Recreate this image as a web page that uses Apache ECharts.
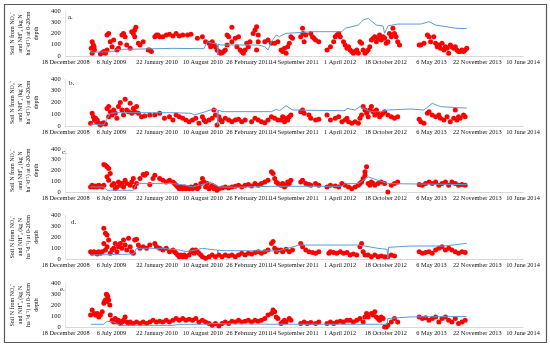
<!DOCTYPE html>
<html><head><meta charset="utf-8">
<script src="https://cdn.jsdelivr.net/npm/echarts@6/dist/echarts.min.js"></script>
<style>html,body{margin:0;padding:0;background:#fff}#c{width:550px;height:346px}</style>
</head><body><div id="c"></div><script>
// x values are day serial numbers (Excel date system); ticks every 200 days
const tickLabels = ['18 December 2008','6 July 2009','22 January 2010','10 August 2010','26 February 2011','14 September 2011','1 April 2012','18 October 2012','6 May 2013','22 November 2013','10 June 2014'];
const xMin = 39800, xMax = 41800, xStep = 200;
const panelLabels = ['a.','b.','c.','d.','e.'];
const yAxisTitle = 'Soil N from NO\u2083\u207B\nand NH\u207A\u2084 (kg N\nha\u207B\u00B9d\u207B\u00B9) at 0-20cm\ndepth';

const scatterA = [[39912,68],[39916,127],[39921,98],[39924,83],[39926,53],[39916,24],[39952,18],[39960,30],[39967,39],[39974,24],[39981,53],[39981,187],[39988,201],[39995,127],[40003,83],[40010,142],[40024,53],[40031,68],[40039,113],[40046,187],[40053,201],[40060,172],[40067,98],[40082,68],[40089,216],[40096,201],[40102,231],[40107,255],[40102,172],[40118,113],[40125,98],[40139,127],[40161,53],[40168,53],[40175,39],[40190,172],[40197,187],[40204,187],[40211,172],[40225,172],[40240,187],[40254,193],[40269,178],[40283,201],[40297,178],[40312,187],[40333,187],[40348,193],[40376,157],[40398,172],[40412,127],[40427,113],[40434,83],[40441,127],[40448,98],[40455,83],[40462,53],[40470,39],[40477,24],[40484,30],[40491,39],[40498,53],[40506,187],[40513,172],[40506,98],[40527,127],[40527,255],[40542,157],[40549,83],[40556,172],[40563,53],[40570,39],[40577,24],[40585,53],[40592,113],[40599,83],[40606,127],[40620,201],[40628,231],[40635,261],[40642,187],[40642,127],[40635,53],[40671,127],[40685,142],[40700,113],[40714,113],[40728,127],
[40742,53],[40749,39],[40757,68],[40764,24],[40771,83],[40778,113],[40785,172],[40792,157],[40828,172],[40836,246],[40838,201],[40843,127],[40850,187],[40872,201],[40879,172],[40886,157],[40893,142],[40907,127],[40943,53],[40958,83],[40972,127],[40979,172],[40986,187],[40994,201],[41001,172],[41015,127],[41022,98],[41030,68],[41037,83],[41044,53],[41051,39],[41058,24],[41066,39],[41073,53],[41080,24],[41087,127],[41094,113],[41101,53],[41109,24],[41116,39],[41123,53],[41130,83],[41137,142],[41145,157],[41152,172],[41159,127],[41166,157],[41173,187],[41180,142],[41188,172],[41195,157],[41202,113],[41209,127],[41216,201],[41224,172],[41231,246],[41238,201],[41245,172],[41252,127],[41260,98],[41346,98],[41353,98],[41367,113],[41382,187],[41389,172],[41410,172],[41396,127],[41418,113],[41425,83],[41432,98],[41439,68],[41446,113],[41454,53],[41461,83],[41468,68],[41475,24],[41482,98],[41489,83],[41497,68],[41504,83],[41511,53],[41518,39],[41525,39],[41533,53],[41540,39],[41547,53],[41554,68]];
const lineA = [[39909,33],[40010,39],[40024,59],[40125,62],[40269,68],[40405,65],[40419,127],[40441,113],[40462,107],[40465,9],[40468,107],[40477,98],[40642,98],[40671,83],[40685,53],[40700,127],[40721,187],[40735,172],[40764,201],[40879,216],[41008,216],[41022,246],[41080,275],[41101,320],[41123,335],[41159,275],[41188,267],[41195,201],[41209,267],[41252,284],[41353,284],[41389,305],[41418,275],[41511,246],[41554,243]];

const scatterB = [[39909,23],[39916,108],[39921,79],[39926,51],[39931,65],[39935,37],[39938,51],[39945,23],[39952,9],[39960,23],[39967,28],[39974,17],[39981,150],[39988,165],[39995,122],[40003,94],[39988,79],[40010,136],[40017,108],[40024,65],[40031,165],[40039,199],[40046,136],[40053,94],[40060,227],[40067,136],[40075,122],[40082,193],[40089,108],[40096,150],[40102,122],[40110,165],[40118,108],[40132,79],[40146,85],[40168,94],[40190,94],[40211,108],[40232,65],[40254,79],[40269,51],[40283,94],[40297,79],[40312,65],[40326,51],[40340,37],[40355,51],[40369,65],[40383,23],[40398,79],[40405,51],[40412,37],[40427,51],[40441,65],[40448,136],[40455,94],[40462,9],[40470,79],[40477,51],[40484,37],[40498,65],[40513,51],[40527,37],[40542,51],[40556,57],[40570,37],[40585,51],[40613,37],[40628,65],[40642,51],[40656,37],[40671,28],[40685,51],[40700,79],[40714,65],[40728,51],
[40742,51],[40749,79],[40757,37],[40764,65],[40771,51],[40778,79],[40785,94],[40828,122],[40836,136],[40843,108],[40864,94],[40872,65],[40893,51],[40907,57],[40943,94],[40958,51],[40979,65],[40994,79],[41008,37],[41022,51],[41030,65],[41037,37],[41051,23],[41066,37],[41080,23],[41087,65],[41094,94],[41101,165],[41109,136],[41116,108],[41123,79],[41130,136],[41137,165],[41145,122],[41152,94],[41159,136],[41166,108],[41173,79],[41180,94],[41188,108],[41195,122],[41209,94],[41224,79],[41238,65],[41252,79],[41346,57],[41353,37],[41367,23],[41382,108],[41389,122],[41403,94],[41418,79],[41432,94],[41439,65],[41454,51],[41468,79],[41482,37],[41497,65],[41504,136],[41511,51],[41518,79],[41525,65],[41540,94],[41547,79]];
const lineB = [[39909,17],[39967,9],[39974,23],[39995,108],[40024,113],[40269,113],[40348,108],[40362,94],[40412,122],[40441,142],[40462,142],[40465,9],[40468,136],[40484,122],[40700,122],[40721,142],[40735,130],[40764,173],[40792,136],[41022,130],[41030,150],[41066,136],[41087,165],[41116,136],[41137,122],[41180,122],[41209,136],[41310,145],[41367,136],[41403,193],[41439,165],[41511,156],[41554,153]];

const scatterC = [[39909,47],[39916,63],[39924,47],[39931,56],[39938,47],[39945,63],[39952,53],[39960,47],[39967,63],[39967,256],[39974,250],[39981,234],[39988,219],[39995,172],[39981,141],[39988,109],[40003,63],[40010,78],[40017,31],[40024,47],[40031,94],[40039,63],[40046,78],[40053,47],[40060,109],[40067,78],[40082,63],[40089,94],[40096,125],[40102,47],[40110,78],[40125,125],[40139,163],[40146,156],[40154,172],[40168,69],[40182,125],[40190,156],[40211,125],[40225,109],[40240,94],[40254,109],[40269,94],[40276,78],[40283,63],[40290,47],[40297,31],[40304,47],[40312,31],[40319,47],[40326,31],[40333,38],[40340,31],[40348,47],[40355,31],[40362,47],[40369,63],[40376,31],[40383,47],[40391,78],[40398,125],[40405,94],[40412,47],[40419,78],[40427,31],[40434,47],[40441,63],[40448,31],[40455,47],[40462,16],[40470,31],[40484,38],[40498,47],[40513,38],[40527,47],[40542,53],[40556,63],[40570,47],[40585,63],[40599,69],[40613,56],[40628,78],[40642,63],[40656,78],[40671,94],[40685,109],[40700,188],[40707,172],[40714,125],[40721,94],[40728,78],
[40742,63],[40749,78],[40757,47],[40764,63],[40771,94],[40778,78],[40785,109],[40828,94],[40836,109],[40850,78],[40864,69],[40872,63],[40893,78],[40907,63],[40943,47],[40958,63],[40979,56],[40994,47],[41008,78],[41022,63],[41037,47],[41051,31],[41066,47],[41080,63],[41087,78],[41094,94],[41101,125],[41109,156],[41116,234],[41109,188],[41123,78],[41130,63],[41137,94],[41145,78],[41152,63],[41166,78],[41180,94],[41195,78],[41209,0],[41224,63],[41238,78],[41252,94],[41346,69],[41360,63],[41374,78],[41389,94],[41403,78],[41418,94],[41432,63],[41446,78],[41461,94],[41475,63],[41489,94],[41504,78],[41518,63],[41533,69],[41547,63]];
const lineC = [[39909,47],[39967,47],[39981,16],[40096,16],[40110,78],[40269,78],[40326,63],[40355,47],[40412,78],[40427,94],[40470,47],[40556,44],[40700,53],[40735,53],[41008,53],[41022,78],[41080,78],[41123,141],[41166,109],[41209,78],[41554,69]];

const scatterD = [[39909,67],[39916,52],[39924,67],[39931,58],[39938,45],[39945,67],[39952,52],[39960,67],[39967,279],[39974,233],[39981,218],[39967,142],[39974,82],[39981,112],[39988,173],[39995,52],[40003,82],[40010,97],[40017,142],[40024,67],[40031,112],[40039,142],[40046,97],[40053,173],[40060,127],[40067,82],[40075,188],[40082,112],[40089,67],[40096,52],[40102,173],[40110,179],[40118,127],[40125,97],[40139,112],[40154,97],[40168,127],[40190,142],[40197,112],[40211,97],[40225,82],[40240,97],[40254,67],[40269,82],[40276,67],[40283,52],[40290,36],[40297,21],[40304,36],[40312,21],[40319,36],[40326,21],[40340,36],[40348,67],[40355,82],[40362,52],[40369,82],[40376,67],[40383,52],[40391,36],[40398,21],[40412,6],[40427,21],[40441,36],[40455,21],[40470,36],[40484,21],[40498,36],[40513,27],[40527,36],[40542,21],[40556,36],[40570,52],[40585,36],[40599,52],[40613,45],[40628,58],[40642,67],[40656,52],[40671,67],[40685,82],[40700,142],[40707,158],[40714,97],[40721,67],[40728,82],
[40742,82],[40749,67],[40764,88],[40778,67],[40792,82],[40828,142],[40836,112],[40850,82],[40864,67],[40879,58],[40893,52],[40907,67],[40951,52],[40958,67],[40972,58],[40986,52],[41001,67],[41015,52],[41030,58],[41044,36],[41058,45],[41073,36],[41087,112],[41094,142],[41101,67],[41109,36],[41123,36],[41137,21],[41152,36],[41166,21],[41180,27],[41195,21],[41209,21],[41224,36],[41238,27],[41346,67],[41360,52],[41374,58],[41389,67],[41403,52],[41418,82],[41432,97],[41446,112],[41461,82],[41475,97],[41489,82],[41504,67],[41518,52],[41533,67],[41547,58]];
const lineD = [[39909,36],[40096,45],[40110,97],[40225,97],[40297,82],[40326,67],[40369,82],[40398,97],[40455,82],[40464,82],[40465,52],[40468,82],[40484,76],[40728,73],[40735,88],[40821,127],[41080,127],[41109,118],[41166,97],[41206,88],[41209,6],[41212,106],[41310,118],[41454,118],[41554,142]];

const scatterE = [[39909,108],[39916,154],[39924,123],[39931,108],[39938,123],[39945,92],[39952,108],[39960,138],[39967,215],[39970,231],[39974,246],[39978,298],[39981,292],[39984,277],[39988,246],[39993,200],[39981,231],[39995,108],[40003,62],[40010,46],[40017,77],[40024,46],[40031,62],[40039,31],[40046,46],[40053,62],[40060,92],[40067,46],[40075,31],[40082,46],[40096,31],[40110,46],[40125,31],[40139,46],[40154,31],[40168,46],[40182,62],[40197,46],[40211,52],[40225,46],[40240,62],[40254,46],[40269,62],[40283,77],[40297,62],[40312,77],[40326,62],[40340,71],[40355,62],[40369,77],[40383,46],[40398,62],[40412,46],[40427,31],[40441,15],[40455,31],[40470,9],[40484,31],[40498,46],[40513,31],[40527,52],[40542,46],[40556,62],[40570,46],[40585,52],[40599,62],[40613,46],[40628,62],[40642,52],[40656,62],[40671,77],[40685,108],[40700,123],[40707,154],[40714,138],[40721,92],[40728,77],
[40742,31],[40749,46],[40757,62],[40764,46],[40778,77],[40785,62],[40828,31],[40843,46],[40857,31],[40872,40],[40893,31],[40907,46],[40943,31],[40958,46],[40972,31],[40986,46],[41001,52],[41015,46],[41030,62],[41044,62],[41058,46],[41073,62],[41087,77],[41101,46],[41109,92],[41116,123],[41123,92],[41137,123],[41145,108],[41152,138],[41159,92],[41166,77],[41173,62],[41180,92],[41188,77],[41195,0],[41202,0],[41209,15],[41224,46],[41238,77],[41252,46],[41346,92],[41360,77],[41374,83],[41389,62],[41403,77],[41418,92],[41432,46],[41446,77],[41461,92],[41475,62],[41489,46],[41504,77],[41518,31],[41533,46],[41547,62]];
const lineE = [[39909,25],[39967,25],[39981,52],[40010,46],[40039,15],[40269,15],[40297,25],[40412,25],[40441,31],[40728,25],[40735,25],[41206,25],[41209,77],[41310,92],[41554,95]];

const scatters = [scatterA, scatterB, scatterC, scatterD, scatterE];
const lines = [lineA, lineB, lineC, lineD, lineE];

// layout (pixels)
const gridTops = [11, 79, 149, 215, 283];
const gridHeights = [45, 47, 43, 44, 44];
const labelPos = [[68,14],[69,80],[62,149],[71,219],[60,286]];
const FONT = 'Liberation Serif';

const chart = echarts.init(document.getElementById('c'), null, {renderer:'canvas'});
const grid = [], xAxis = [], yAxis = [], series = [], graphic = [];
for (let i = 0; i < 5; i++) {
  grid.push({left: 58, width: 465, top: gridTops[i], height: gridHeights[i]});
  xAxis.push({type:'value', gridIndex:i, min:xMin, max:xMax, interval:xStep,
    axisLine:{show:true, lineStyle:{color:'#d9d9d9', width:1}}, axisTick:{show:false}, splitLine:{show:false},
    axisLabel:{color:'#111', fontFamily:FONT, fontSize:6.3, margin:3, showMinLabel:true, showMaxLabel:true,
      formatter: v => tickLabels[Math.round((v - xMin)/xStep)] || ''}});
  yAxis.push({type:'value', gridIndex:i, min:0, max:400, interval:100,
    axisLine:{show:true, lineStyle:{color:'#e6e6e6', width:1}}, axisTick:{show:false}, splitLine:{show:false},
    axisLabel:{color:'#111', fontFamily:FONT, fontSize:6.5, margin:5},
    name: yAxisTitle, nameLocation:'middle', nameRotate:90, nameGap:19,
    nameTextStyle:{color:'#111', fontFamily:FONT, fontSize:6, lineHeight:8, align:'center'}});
  series.push({type:'scatter', xAxisIndex:i, yAxisIndex:i, data:scatters[i], symbol:'circle', symbolSize:5,
    itemStyle:{color:'#ff0000', opacity:1}, silent:true, z:2});
  series.push({type:'line', xAxisIndex:i, yAxisIndex:i, data:lines[i], showSymbol:false, symbol:'none',
    lineStyle:{color:'#5b9bd5', width:1}, silent:true, z:3});
  graphic.push({type:'text', left:labelPos[i][0], top:labelPos[i][1],
    style:{text:panelLabels[i], fill:'#111', font:'7px "Liberation Serif"'}});
}
graphic.push({type:'rect', shape:{x:4.5, y:4.5, width:542, height:338}, style:{fill:'none', stroke:'#595959', lineWidth:1.2}, z:-1});
chart.setOption({animation:false, backgroundColor:'#fff', grid, xAxis, yAxis, series, graphic});
</script></body></html>
